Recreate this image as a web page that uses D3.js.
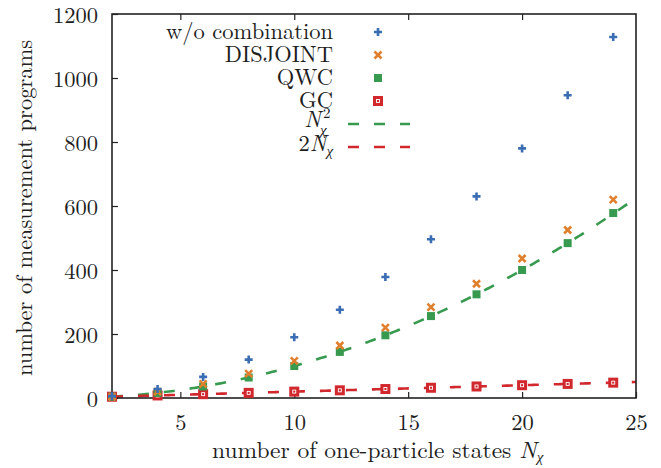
<!DOCTYPE html>
<html><head><meta charset="utf-8">
<script src="https://cdn.jsdelivr.net/npm/d3@7"></script>
<style>
body{margin:0;background:#fff;}
svg text{font-family:"Latin Modern Roman","Liberation Serif",serif !important;fill:#1e1e1e;}
</style></head>
<body><svg id="c" width="661" height="468"></svg>
<script>
const N = [2,4,6,8,10,12,14,16,18,20,22,24];
const woComb = [6,28,66,120,190,276,378,496,630,780,946,1128];
const disjoint = [4,20,44,76,116,164,220,284,357,436,525,620];
const qwc = [4,16,36,64,100,144,196,256,324,400,484,578];
const gc = [4,8,12,16,20,24,28,32,36,40,44,48];
const xTicks = [5,10,15,20,25];
const yTicks = [0,200,400,600,800,1000,1200];
const fitN = d3.range(2, 25.001, 0.1);

const colors = {blue:"#3b6db4", orange:"#e0802e", green:"#379a4f", red:"#d1282e"};
const FF = "Latin Modern Roman";
const svg = d3.select("#c");
const L=112, R=636, T=14, B=398;
const x = d3.scaleLinear().domain([2,25]).range([L,R]);
const y = d3.scaleLinear().domain([0,1200]).range([B,T]);
const fs = 22.5;

// fit lines
const line = d3.line().x(d=>x(d[0])).y(d=>y(d[1]));
svg.append("path").attr("d", line(fitN.map(n=>[n,n*n]))).attr("fill","none")
  .attr("stroke",colors.green).attr("stroke-width",2.6).attr("stroke-dasharray","11,15");
svg.append("path").attr("d", line(fitN.map(n=>[n,2*n]))).attr("fill","none")
  .attr("stroke",colors.red).attr("stroke-width",2.6).attr("stroke-dasharray","11,15");

// frame
svg.append("rect").attr("x",L).attr("y",T).attr("width",R-L).attr("height",B-T)
  .attr("fill","none").attr("stroke","#222").attr("stroke-width",1.6);

// x axis ticks (bottom & top, inward)
const xa = d3.axisBottom(x).tickValues(xTicks).tickFormat(d3.format("d")).tickSizeInner(-6).tickSizeOuter(0).tickPadding(16);
const gx = svg.append("g").attr("transform",`translate(0,${B})`).call(xa).attr("font-family",FF);
gx.select(".domain").remove();
gx.selectAll("line").attr("stroke","#222").attr("stroke-width",1.2);
gx.selectAll("text").attr("font-size",fs).attr("dy","0.71em");
const xt = d3.axisTop(x).tickValues(xTicks.filter(v=>v<25)).tickSizeInner(-6).tickSizeOuter(0).tickFormat("");
const gxt = svg.append("g").attr("transform",`translate(0,${T})`).call(xt);
gxt.select(".domain").remove();
gxt.selectAll("line").attr("stroke","#222").attr("stroke-width",1.2);

// y axis
const ya = d3.axisLeft(y).tickValues(yTicks).tickFormat(d3.format("d")).tickSizeInner(-6).tickSizeOuter(0).tickPadding(14);
const gy = svg.append("g").attr("transform",`translate(${L},0)`).call(ya).attr("font-family",FF);
gy.select(".domain").remove();
gy.selectAll("line").attr("stroke","#222").attr("stroke-width",1.2);
gy.selectAll("text").attr("font-size",fs).attr("dy","0.36em");

// markers
function plus(g, cx, cy){ g.append("path").attr("d",`M${cx-4},${cy}H${cx+4}M${cx},${cy-4}V${cy+4}`).attr("stroke",colors.blue).attr("stroke-width",2.6).attr("fill","none"); }
function cross(g, cx, cy){ g.append("path").attr("d",`M${cx-3.5},${cy-3.5}L${cx+3.5},${cy+3.5}M${cx-3.5},${cy+3.5}L${cx+3.5},${cy-3.5}`).attr("stroke",colors.orange).attr("stroke-width",2.6).attr("fill","none"); }
function sq(g, cx, cy){ g.append("rect").attr("x",cx-4).attr("y",cy-4).attr("width",8).attr("height",8).attr("fill",colors.green); }
function gcm(g, cx, cy){
  g.append("rect").attr("x",cx-5).attr("y",cy-5).attr("width",10).attr("height",10).attr("fill",colors.red);
  g.append("rect").attr("x",cx-1.5).attr("y",cy-1.5).attr("width",3).attr("height",3).attr("fill","none").attr("stroke","#fff").attr("stroke-width",0.9);
}
const gm = svg.append("g");
N.forEach((n,i)=>{ gcm(gm, x(n), y(gc[i])); });
N.forEach((n,i)=>{ sq(gm, x(n), y(qwc[i])); });
N.forEach((n,i)=>{ cross(gm, x(n), y(disjoint[i])); });
N.forEach((n,i)=>{ plus(gm, x(n), y(woComb[i])); });

// legend
const lg = svg.append("g");
const lx = 333, sx = 378, rows=[32,55,78,101,124,147];
function ltext(row){ return lg.append("text").attr("x",lx).attr("y",rows[row]+7).attr("text-anchor","end").attr("font-size",fs); }
ltext(0).text("w/o combination");
ltext(1).text("DISJOINT");
ltext(2).text("QWC");
ltext(3).text("GC");
plus(lg,sx,rows[0]); cross(lg,sx,rows[1]); sq(lg,sx,rows[2]); gcm(lg,sx,rows[3]);
// N_chi^2
lg.append("text").attr("x",lx-12).attr("y",rows[4]+3).attr("text-anchor","end").attr("font-size",fs).attr("font-style","italic").text("N");
lg.append("text").attr("x",lx-10).attr("y",rows[4]-6).attr("font-size",15).text("2");
lg.append("text").attr("x",lx-13).attr("y",rows[4]+11).attr("font-size",15).attr("font-style","italic").text("χ");
let t5 = lg.append("text").attr("x",lx).attr("y",rows[5]+4).attr("text-anchor","end").attr("font-size",fs);
t5.append("tspan").text("2");
t5.append("tspan").attr("font-style","italic").text("N");
t5.append("tspan").attr("font-size",15).attr("font-style","italic").attr("dy",5).text("χ");
[[4,colors.green],[5,colors.red]].forEach(([r,c])=>{
  lg.append("line").attr("x1",348).attr("x2",410).attr("y1",rows[r]).attr("y2",rows[r])
    .attr("stroke",c).attr("stroke-width",2.6).attr("stroke-dasharray","11,15");
});

// axis titles
const xl = svg.append("text").attr("x",212).attr("y",458).attr("text-anchor","start").attr("font-size",23.5);
xl.append("tspan").text("number of one-particle states ");
xl.append("tspan").attr("font-style","italic").text("N");
xl.append("tspan").attr("font-size",15).attr("font-style","italic").attr("dy",4).text("χ");
svg.append("text").attr("transform","translate(32,208) rotate(-90)").attr("text-anchor","middle")
  .attr("font-size",fs).text("number of measurement programs");
</script></body></html>
